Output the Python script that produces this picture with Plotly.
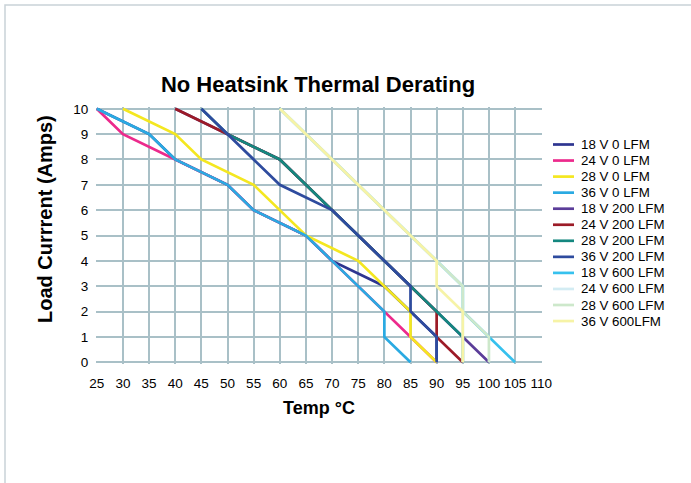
import plotly.graph_objects as go

names = ["18 V 0 LFM", "24 V 0 LFM", "28 V 0 LFM", "36 V 0 LFM",
         "18 V 200 LFM", "24 V 200 LFM", "28 V 200 LFM", "36 V 200 LFM",
         "18 V 600 LFM", "24 V 600 LFM", "28 V 600 LFM", "36 V 600LFM"]
colors = ["#2e3590", "#ec2a8c", "#f4e720", "#2aaae2",
          "#5b3d99", "#9c1b27", "#14877f", "#2e4b9e",
          "#36c1ee", "#d3ecf3", "#cde8cb", "#f6f3a6"]

t_18_0 = [25, 35, 40, 50, 55, 65, 70, 80, 85, 90, 90]
i_18_0 = [10, 9, 8, 7, 6, 5, 4, 3, 2, 1, 0]
t_24_0 = [25, 30, 40, 50, 55, 65, 70, 80, 85, 90]
i_24_0 = [10, 9, 8, 7, 6, 5, 4, 2, 1, 0]
t_28_0 = [30, 40, 45, 55, 60, 65, 75, 80, 85, 85, 90]
i_28_0 = [10, 9, 8, 7, 6, 5, 4, 3, 2, 1, 0]
t_36_0 = [25, 35, 40, 50, 55, 65, 70, 80, 80, 85]
i_36_0 = [10, 9, 8, 7, 6, 5, 4, 2, 1, 0]

t_18_200 = [40, 50, 60, 70, 85, 90, 95, 100]
i_18_200 = [10, 9, 8, 6, 3, 2, 1, 0]
t_24_200 = [40, 50, 60, 70, 85, 90, 90, 95]
i_24_200 = [10, 9, 8, 6, 3, 2, 1, 0]
t_28_200 = [45, 50, 60, 70, 85, 90, 95, 95]
i_28_200 = [10, 9, 8, 6, 3, 2, 1, 0]
t_36_200 = [45, 50, 60, 70, 85, 85, 90, 90]
i_36_200 = [10, 9, 7, 6, 3, 2, 1, 0]

t_18_600 = [60, 90, 95, 95, 100, 105]
i_18_600 = [10, 4, 3, 2, 1, 0]
t_24_600 = [60, 90, 95, 95]
i_24_600 = [10, 4, 3, 0]
t_28_600 = [60, 90, 95, 95, 100, 100]
i_28_600 = [10, 4, 3, 2, 1, 0]
t_36_600 = [60, 90, 90, 95, 95]
i_36_600 = [10, 4, 3, 2, 0]

series_t = [t_18_0, t_24_0, t_28_0, t_36_0, t_18_200, t_24_200, t_28_200, t_36_200,
            t_18_600, t_24_600, t_28_600, t_36_600]
series_i = [i_18_0, i_24_0, i_28_0, i_36_0, i_18_200, i_24_200, i_28_200, i_36_200,
            i_18_600, i_24_600, i_28_600, i_36_600]

x_ticks = list(range(25, 115, 5))
y_ticks = list(range(0, 11, 1))

fig = go.Figure()
for n, c, t, i in zip(names, colors, series_t, series_i):
    fig.add_trace(go.Scatter(x=t, y=i, mode="lines", name=n, showlegend=False,
                             line=dict(color=c, width=2.7)))

W, H = 691, 483
L, R, T, B = 96, 149, 107, 119
pw, ph = W - L - R, H - T - B

def px_to_paper_x(px):
    return (px - L) / pw

def px_to_paper_y(py):
    return (H - B - py) / ph

fig.update_layout(
    width=W, height=H,
    margin=dict(l=L, r=R, t=T, b=B),
    paper_bgcolor="white", plot_bgcolor="white",
    font=dict(family="Liberation Sans, Arial, sans-serif", color="#000000"),
    title=dict(text="<b>No Heatsink Thermal Derating</b>", font=dict(size=22),
               x=px_to_paper_x(318), xref="paper", xanchor="center",
               y=1 - 84 / H, yanchor="middle"),
    xaxis=dict(range=[24.85, 110.15], tickvals=x_ticks, showgrid=True,
               gridcolor="#a9c0c7", gridwidth=2, zeroline=False, showline=False,
               ticks="outside", ticklen=7, tickcolor="rgba(0,0,0,0)",
               tickfont=dict(size=13.5),
               title=dict(text="<b>Temp °C</b>", font=dict(size=18), standoff=11)),
    yaxis=dict(range=[-0.07, 10.07], tickvals=y_ticks, showgrid=True,
               gridcolor="#a9c0c7", gridwidth=2, zeroline=False, showline=False,
               ticks="outside", ticklen=4, tickcolor="rgba(0,0,0,0)",
               tickfont=dict(size=13.5)),
    showlegend=False,
)

# y-axis title
fig.add_annotation(x=px_to_paper_x(45), y=px_to_paper_y(219), xref="paper", yref="paper",
                   text="<b>Load Currrent (Amps)</b>", textangle=-90, showarrow=False,
                   xanchor="center", yanchor="middle", font=dict(size=20))

# frame around the chart
fig.add_shape(type="rect", xref="paper", yref="paper",
              x0=px_to_paper_x(5), y0=px_to_paper_y(520),
              x1=px_to_paper_x(720), y1=px_to_paper_y(5),
              line=dict(color="#c9d2d7", width=1.5), fillcolor="rgba(0,0,0,0)", layer="below")

# legend
for k, (n, c) in enumerate(zip(names, colors)):
    ypx = 144.5 + k * 16.05
    yp = px_to_paper_y(ypx)
    fig.add_shape(type="line", xref="paper", yref="paper",
                  x0=px_to_paper_x(553), x1=px_to_paper_x(574), y0=yp, y1=yp,
                  line=dict(color=c, width=2.7))
    fig.add_annotation(x=px_to_paper_x(579), y=yp, xref="paper", yref="paper",
                       text=n, showarrow=False, xanchor="left", yanchor="middle",
                       font=dict(size=13.3))

fig.write_html("out.html", config={"displayModeBar": False},
               post_script="document.body.style.margin='0px';")
